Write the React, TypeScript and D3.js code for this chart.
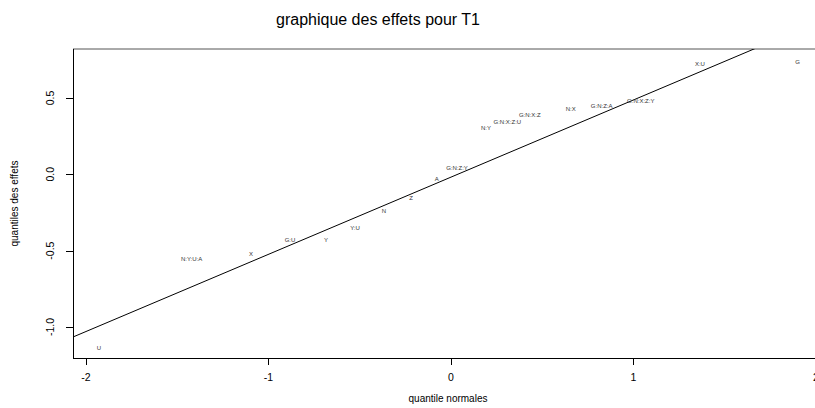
import React from "react";
import * as d3 from "d3";

const labels = ["U", "N:Y:U:A", "X", "G:U", "Y", "Y:U", "N", "Z", "A", "G:N:Z:Y", "N:Y", "G:N:X:Z:U", "G:N:X:Z", "N:X", "G:N:Z:A", "G:N:X:Z:Y", "X:U", "G"];
const theoQuantiles = [-1.929, -1.421, -1.096, -0.882, -0.685, -0.526, -0.367, -0.219, -0.078, 0.033, 0.192, 0.309, 0.432, 0.656, 0.826, 1.04, 1.364, 1.9];
const effects = [-1.134, -0.555, -0.522, -0.43, -0.428, -0.352, -0.24, -0.155, -0.031, 0.041, 0.303, 0.342, 0.388, 0.428, 0.447, 0.48, 0.722, 0.735];
const xTicks = [-2, -1, 0, 1, 2];
const yTicks = [-1.0, -0.5, 0.0, 0.5];
const lineIntercept = -0.0186;
const lineSlope = 0.5055;

const title = "graphique des effets pour T1";
const xTitle = "quantile normales";
const yTitle = "quantiles des effets";

export default function App() {
  const W = 815, H = 408;
  const left = 73, top = 49, bottom = 358;
  const x = d3.scaleLinear().domain([-2.071, 2.1]).range([left, left + 4.171 * 182.5]);
  const y = d3.scaleLinear().domain([-1.203, 0.8206]).range([bottom, top]);
  const right = x.range()[1];
  const [q0, q1] = x.domain();
  const lineGen = d3.line<number>().x((q) => x(q)).y((q) => y(lineIntercept + lineSlope * q));
  const font = "'Liberation Sans', Arial, sans-serif";
  return (
    <svg width={W} height={H} style={{ position: "absolute", left: 0, top: 0, background: "#fff" }} fontFamily={font}>
      <defs>
        <clipPath id="plotclip">
          <rect x={left} y={top} width={right - left} height={bottom - top} />
        </clipPath>
      </defs>
      <rect x={0} y={0} width={W} height={H} fill="#fff" />
      <text x={378} y={25} textAnchor="middle" fontSize={16} fill="#000">{title}</text>
      {/* box */}
      <line x1={left} x2={right} y1={top} y2={top} stroke="#555" strokeWidth={1} />
      <line x1={left + 0.5} x2={left + 0.5} y1={top} y2={bottom + 0.5} stroke="#000" strokeWidth={1} />
      <line x1={left} x2={right} y1={bottom + 0.5} y2={bottom + 0.5} stroke="#000" strokeWidth={1} />
      {/* x axis */}
      {xTicks.map((t) => (
        <g key={"x" + t}>
          <line x1={Math.round(x(t)) + 0.5} x2={Math.round(x(t)) + 0.5} y1={bottom} y2={bottom + 7} stroke="#000" />
          <text x={x(t)} y={381} textAnchor="middle" fontSize={10.5} fill="#000">{t}</text>
        </g>
      ))}
      {/* y axis */}
      {yTicks.map((t) => (
        <g key={"y" + t}>
          <line x1={left - 7} x2={left} y1={Math.round(y(t)) + 0.5} y2={Math.round(y(t)) + 0.5} stroke="#000" />
          <text transform={`translate(54,${y(t)}) rotate(-90)`} textAnchor="middle" fontSize={10.5} fill="#000">{t.toFixed(1)}</text>
        </g>
      ))}
      <text x={448} y={402} textAnchor="middle" fontSize={10} fill="#000">{xTitle}</text>
      <text transform={`translate(18,${(top + bottom) / 2}) rotate(-90)`} textAnchor="middle" fontSize={10} fill="#000">{yTitle}</text>
      <g clipPath="url(#plotclip)">
        <path d={lineGen([q0, q1]) || ""} stroke="#000" strokeWidth={1} fill="none" />
        {labels.map((l, i) => (
          <text key={l} x={x(theoQuantiles[i])} y={y(effects[i])} dy="0.35em" textAnchor="middle" fontSize={6} fill="#333">{l}</text>
        ))}
      </g>
    </svg>
  );
}
